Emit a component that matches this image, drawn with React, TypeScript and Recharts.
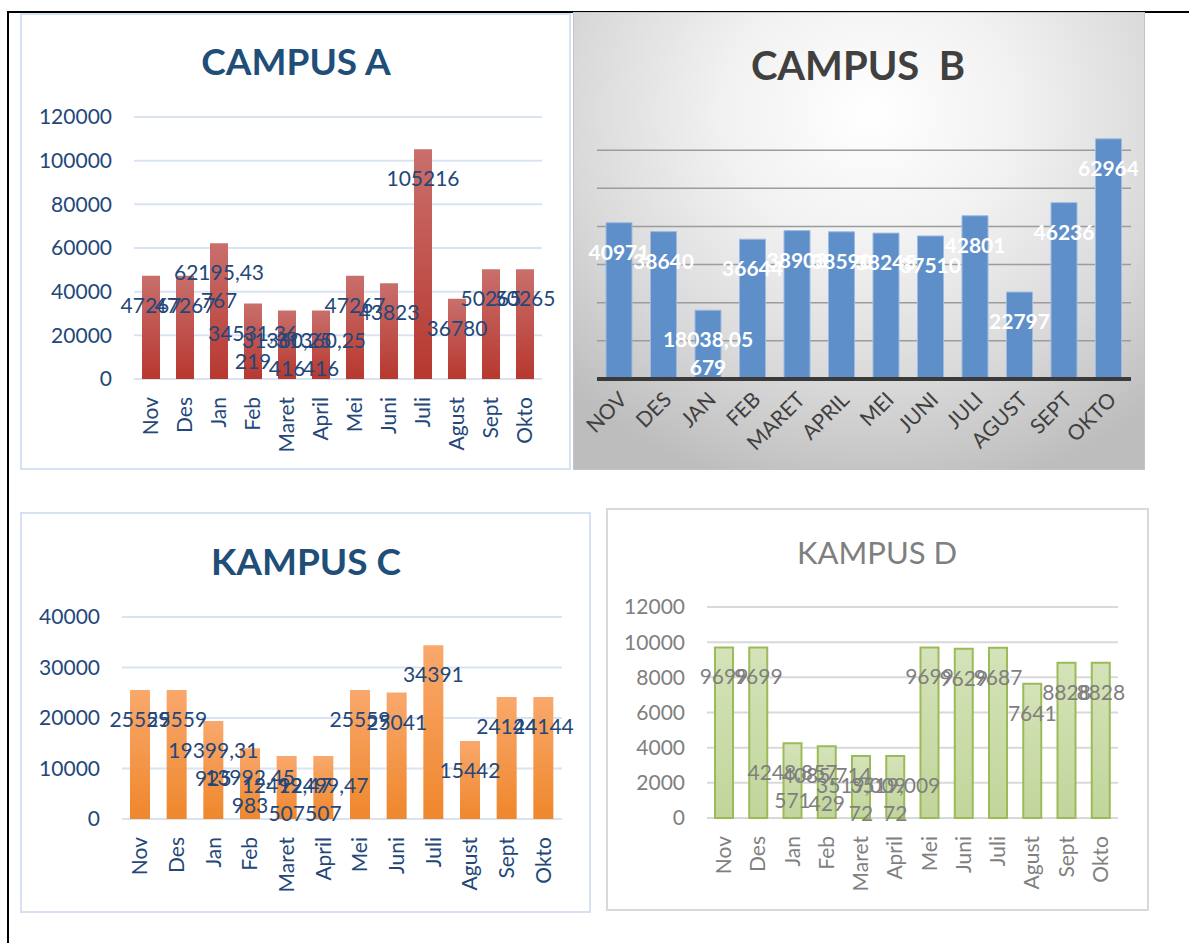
import React from 'react';
import { BarChart, Bar, XAxis, YAxis, CartesianGrid, LabelList } from 'recharts';

const months = ['Nov', 'Des', 'Jan', 'Feb', 'Maret', 'April', 'Mei', 'Juni', 'Juli', 'Agust', 'Sept', 'Okto'];
const monthsUpper = ['NOV', 'DES', 'JAN', 'FEB', 'MARET', 'APRIL', 'MEI', 'JUNI', 'JULI', 'AGUST', 'SEPT', 'OKTO'];

const campusA = [47267, 47267, 62195.43767, 34531.36219, 31360.25416, 31360.25416, 47267, 43823, 105216, 36780, 50265, 50265];
const campusB = [40971, 38640, 18038.05679, 36644, 38903, 38590, 38245, 37510, 42801, 22797, 46236, 62964];
const campusC = [25559, 25559, 19399.31925, 13992.45983, 12499.47507, 12499.47507, 25559, 25041, 34391, 15442, 24144, 24144];
const campusD = [9699, 9699, 4248.857571, 4085.714429, 3519.00972, 3519.00972, 9699, 9629, 9687, 7641, 8828, 8828];

const ticksA = [0, 20000, 40000, 60000, 80000, 100000, 120000];
const ticksB = [0, 10000, 20000, 30000, 40000, 50000, 60000];
const maxB = 70000;
const ticksC = [0, 10000, 20000, 30000, 40000];
const ticksD = [0, 2000, 4000, 6000, 8000, 10000, 12000];

const FONT = 'Lato, "Open Sans", sans-serif';

const toRows = (names: string[], values: number[]) => names.map((name, i) => ({ name, value: values[i] }));

// excel wraps the long decimal labels after ~8 characters
function splitLabel(v: number) {
  const s = String(v).replace('.', ',');
  if (s.length <= 8) return [s];
  return [s.slice(0, 8), s.slice(8)];
}

function makeLabel(fill: string, weight: number | string) {
  return (props: any) => {
    const { x, y, width, value } = props;
    const cx = Number(x) + Number(width) / 2;
    const lines = splitLabel(Number(value));
    return (
      <text
        x={cx}
        y={Number(y) + 28}
        fill={fill}
        fontSize={21}
        fontWeight={weight}
        fontFamily={FONT}
        textAnchor="middle"
        dominantBaseline="central"
      >
        {lines.map((l, i) => (
          <tspan key={i} x={cx} dy={i === 0 ? 0 : 28}>
            {l}
          </tspan>
        ))}
      </text>
    );
  };
}

function VerticalTick(props: any) {
  const { x, y, payload, fill } = props;
  return (
    <text
      transform={`translate(${x + 7},${y + 10}) rotate(-90)`}
      textAnchor="end"
      fill={fill}
      fontSize={21}
      fontFamily={FONT}
    >
      {payload.value}
    </text>
  );
}

function SlantTick(props: any) {
  const { x, y, payload } = props;
  return (
    <text
      transform={`translate(${x + 9},${y + 14}) rotate(-45)`}
      textAnchor="end"
      fill="#404040"
      fontSize={21}
      fontFamily={FONT}
    >
      {payload.value}
    </text>
  );
}

const NoTick = () => <g />;

// gridlines of campus B only up to 60000 (no line at the axis max)
const gridB = (props: any) => {
  const scale = props?.yAxis?.scale;
  if (typeof scale === 'function') return ticksB.map((t) => scale(t));
  if (scale && typeof scale.map === 'function') return ticksB.map((t) => scale.map(t));
  const off = props?.offset;
  if (!off) return [];
  return ticksB.map((t) => off.top + off.height * (1 - t / maxB));
};

const abs = (left: number, top: number, width: number, height: number): React.CSSProperties => ({
  position: 'absolute',
  left,
  top,
  width,
  height,
  boxSizing: 'border-box',
});

function Title({ text, cx, cy, size, color, weight }: { text: string; cx: number; cy: number; size: number; color: string; weight: number }) {
  return (
    <div
      style={{
        position: 'absolute',
        left: cx - 200,
        top: cy - size / 2,
        width: 400,
        lineHeight: `${size}px`,
        fontSize: size,
        fontWeight: weight,
        color,
        fontFamily: FONT,
        textAlign: 'center',
        whiteSpace: 'pre',
      }}
    >
      {text}
    </div>
  );
}

export default function App() {
  const dataA = toRows(months, campusA);
  const dataB = toRows(monthsUpper, campusB);
  const dataC = toRows(months, campusC);
  const dataD = toRows(months, campusD);

  const blueText = '#24477A';
  const grayText = '#7F7F7F';

  return (
    <div style={{ position: 'absolute', left: 0, top: 0, width: 1189, height: 943, background: '#fff', overflow: 'hidden' }}>
      {/* page frame */}
      <div style={{ position: 'absolute', left: 7, top: 11, width: 1182, height: 2, background: '#000' }} />
      <div style={{ position: 'absolute', left: 7, top: 11, width: 2, height: 932, background: '#000' }} />

      {/* CAMPUS A */}
      <div style={{ ...abs(20, 13, 551, 457), border: '2px solid #D6E1F1', background: '#fff' }} />
      <Title text="CAMPUS A" cx={296} cy={60} size={37} color="#1F4E79" weight={700} />
      <div style={abs(20, 12, 551, 457)}>
        <BarChart width={551} height={457} data={dataA} margin={{ top: 105, right: 29, left: 0, bottom: 0 }}>
          <defs>
            <linearGradient id="gradA" x1="0" y1="0" x2="0" y2="1">
              <stop offset="0%" stopColor="#C96F6C" />
              <stop offset="100%" stopColor="#B7382F" />
            </linearGradient>
          </defs>
          <CartesianGrid vertical={false} stroke="#D9E3F2" strokeWidth={2} />
          <XAxis dataKey="name" height={90} axisLine={false} tickLine={false} interval={0} tick={(p: any) => <VerticalTick {...p} fill={blueText} />} />
          <YAxis width={114} domain={[0, 120000]} ticks={ticksA} axisLine={false} tickLine={false} tickMargin={16} tick={{ fontSize: 21, fill: blueText, fontFamily: FONT }} />
          <Bar dataKey="value" fill="url(#gradA)" barSize={18} isAnimationActive={false}>
            <LabelList dataKey="value" content={makeLabel(blueText, 400)} />
          </Bar>
        </BarChart>
      </div>

      {/* CAMPUS B */}
      <div
        style={{
          ...abs(573, 12, 572, 458),
          border: '1px solid #C4C4C4',
          background: 'radial-gradient(ellipse 75% 85% at 52% 22%, #ffffff 0%, #f1f1f1 35%, #d9d9d9 70%, #bdbdbd 100%)',
        }}
      />
      <Title text="CAMPUS  B" cx={858} cy={65} size={40} color="#404040" weight={700} />
      <div style={abs(573, 12, 572, 458)}>
        <BarChart width={572} height={458} data={dataB} margin={{ top: 100, right: 14, left: 24, bottom: 0 }}>
          <CartesianGrid vertical={false} stroke="#9C9C9C" strokeWidth={1.5} horizontalCoordinatesGenerator={gridB} />
          <XAxis dataKey="name" height={91} axisLine={{ stroke: '#3A3A3A', strokeWidth: 4 }} tickLine={false} interval={0} tick={(p: any) => <SlantTick {...p} />} />
          <YAxis width={0} domain={[0, maxB]} ticks={ticksB} axisLine={false} tickLine={false} tick={NoTick} />
          <Bar dataKey="value" fill="#5E8FC9" stroke="#9DBBE2" strokeWidth={1} barSize={26} isAnimationActive={false}>
            <LabelList dataKey="value" content={makeLabel('#ffffff', 700)} />
          </Bar>
        </BarChart>
      </div>

      {/* KAMPUS C */}
      <div style={{ ...abs(20, 512, 571, 401), border: '2px solid #D6E1F1', background: '#fff' }} />
      <Title text="KAMPUS C" cx={306} cy={560} size={37} color="#1F4E79" weight={700} />
      <div style={abs(20, 512, 570, 400)}>
        <BarChart width={570} height={400} data={dataC} margin={{ top: 105, right: 28, left: 0, bottom: 0 }}>
          <defs>
            <linearGradient id="gradC" x1="0" y1="0" x2="0" y2="1">
              <stop offset="0%" stopColor="#F9A86C" />
              <stop offset="100%" stopColor="#EF872C" />
            </linearGradient>
          </defs>
          <CartesianGrid vertical={false} stroke="#D9E3F2" strokeWidth={2} />
          <XAxis dataKey="name" height={93} axisLine={false} tickLine={false} interval={0} tick={(p: any) => <VerticalTick {...p} fill={blueText} />} />
          <YAxis width={102} domain={[0, 40000]} ticks={ticksC} axisLine={false} tickLine={false} tickMargin={16} tick={{ fontSize: 21, fill: blueText, fontFamily: FONT }} />
          <Bar dataKey="value" fill="url(#gradC)" barSize={20} isAnimationActive={false}>
            <LabelList dataKey="value" content={makeLabel(blueText, 400)} />
          </Bar>
        </BarChart>
      </div>

      {/* KAMPUS D */}
      <div style={{ ...abs(606, 508, 543, 403), border: '2px solid #D9D9D9', background: '#fff' }} />
      <Title text="KAMPUS D" cx={877} cy={552} size={31} color="#7F7F7F" weight={400} />
      <div style={abs(606, 508, 542, 402)}>
        <BarChart width={542} height={402} data={dataD} margin={{ top: 99, right: 30, left: 0, bottom: 0 }}>
          <defs>
            <linearGradient id="gradD" x1="0" y1="0" x2="0" y2="1">
              <stop offset="0%" stopColor="#D4E3B9" />
              <stop offset="100%" stopColor="#C2D59B" />
            </linearGradient>
          </defs>
          <CartesianGrid vertical={false} stroke="#D9D9D9" strokeWidth={2} />
          <XAxis dataKey="name" height={92} axisLine={false} tickLine={false} interval={0} tick={(p: any) => <VerticalTick {...p} fill={grayText} />} />
          <YAxis width={101} domain={[0, 12000]} ticks={ticksD} axisLine={false} tickLine={false} tickMargin={16} tick={{ fontSize: 21, fill: grayText, fontFamily: FONT }} />
          <Bar dataKey="value" fill="url(#gradD)" stroke="#9BBB59" strokeWidth={2} barSize={18} isAnimationActive={false}>
            <LabelList dataKey="value" content={makeLabel(grayText, 400)} />
          </Bar>
        </BarChart>
      </div>
    </div>
  );
}
